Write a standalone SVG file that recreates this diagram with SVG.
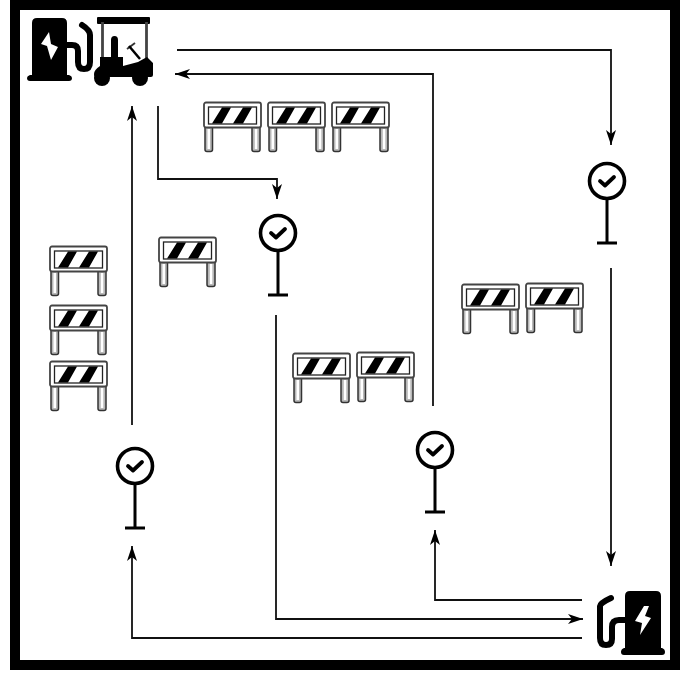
<svg xmlns="http://www.w3.org/2000/svg" width="694" height="673" viewBox="0 0 694 673">
<style>
.c{fill:none;stroke:#111;stroke-width:1.8}
.p{fill:#fff;stroke:#000;stroke-width:3.6}
.s{fill:none;stroke:#000;stroke-width:3}
.o{fill:#fff;stroke:#444;stroke-width:1.800}
.l{fill:#b8b8b8;stroke:#333;stroke-width:1.500}
.h{fill:none;stroke:#000;stroke-width:6;stroke-linecap:round;stroke-linejoin:round}
</style>
<defs>
<marker id="a" markerWidth="16" markerHeight="12" refX="15" refY="6" orient="auto" markerUnits="userSpaceOnUse"><path d="M0 1L15 6L0 11L4 6Z" fill="#000"/></marker>
<g id="barrier">
<rect class="l" x="1" y="24" width="7.500" height="26.500" rx="2"/>
<rect x="3.500" y="28" width="2.500" height="20" fill="#fff"/>
<rect class="l" x="48" y="24" width="8" height="26.500" rx="2"/>
<rect x="50.800" y="28" width="2.500" height="20" fill="#fff"/>
<rect class="o" x="0" y="1.500" width="57" height="25" rx="2"/>
<rect x="4.500" y="6" width="48" height="17" fill="#fff" stroke="#222" stroke-width="1.300"/>
<path d="M8 22.500L18 6.500H27L18 22.500ZM29 22.500L39 6.500H48L39 22.500Z" fill="#000"/>
</g>
<g id="pin">
<path class="s" d="M0 18V62M-10 62H10"/>
<circle class="p" cx="0" cy="0" r="17.500"/>
<path d="M-7 0L-2 4.500L7 -4" fill="none" stroke="#000" stroke-width="3.800" stroke-linecap="round" stroke-linejoin="round"/>
</g>
</defs>
<rect width="694" height="673" fill="#fff"/>
<rect id="frame" x="15" y="5" width="660" height="660" fill="none" stroke="#000" stroke-width="10"/>
<g id="connectors">
<path class="c" marker-end="url(#a)" d="M177 50H611V145"/>
<path class="c" marker-end="url(#a)" d="M433 406V74H175"/>
<path class="c" marker-end="url(#a)" d="M158 106V179H277V199"/>
<path class="c" marker-end="url(#a)" d="M132 425V106"/>
<path class="c" marker-end="url(#a)" d="M611 268V566"/>
<path class="c" marker-end="url(#a)" d="M276 315V619H583"/>
<path class="c" marker-end="url(#a)" d="M582 600H435V530"/>
<path class="c" marker-end="url(#a)" d="M582 638H132V546"/>
</g>
<g id="station-a">
<path d="M32 23Q32 18 37 18H62Q67 18 67 23V75H69Q72 76 72 78Q72 81 69 81H30Q27 81 27 78Q27 76 30 75H32Z" fill="#000"/>
<path d="M49 32L41 44L47 46L51 60L58 47L51 44Z" fill="#fff"/>
<path class="h" d="M66 45H72Q78 45 78 51V62Q78 69 84 69Q90 69 90 62V35Q90 30 82 25"/>
</g>
<g id="cart">
<rect x="97" y="17" width="53" height="7" rx="1" fill="#000"/>
<path d="M102.500 22V58M146.500 22V58" stroke="#444" stroke-width="2.800" fill="none"/>
<path d="M111 40Q111 36 114.500 36Q118 36 118 40V57H123V66L138 62L147 57L153 63V75Q153 77 151 77H96Q94 77 94 74Q94 70 100 66V57H111Z" fill="#000"/>
<circle cx="102" cy="78" r="8" fill="#000"/>
<circle cx="140" cy="78" r="8" fill="#000"/>
<path d="M127 49L135 43" stroke="#333" stroke-width="1.800" fill="none"/>
<path d="M129 46L140 59" stroke="#000" stroke-width="2.500" fill="none"/>
</g>
<g id="station-b">
<path d="M625 596Q625 591 630 591H656Q661 591 661 596V648H662Q665 649 665 652Q665 655 662 655H624Q621 655 621 652Q621 649 624 648H625Z" fill="#000"/>
<path d="M644 606L635 621L642 623L640 635L651 618L645 616L649 606Z" fill="#fff"/>
<path class="h" d="M626 620H619Q612 620 612 627V639Q612 645 606 645Q600 645 600 638V606Q600 603 611 598"/>
</g>
<g id="barriers">
<use href="#barrier" x="204" y="101"/>
<use href="#barrier" x="268" y="101"/>
<use href="#barrier" x="332" y="101"/>
<use href="#barrier" x="159" y="236"/>
<use href="#barrier" x="50" y="245"/>
<use href="#barrier" x="50" y="304"/>
<use href="#barrier" x="50" y="360"/>
<use href="#barrier" x="293" y="352"/>
<use href="#barrier" x="357" y="351"/>
<use href="#barrier" x="462" y="283"/>
<use href="#barrier" x="526" y="282"/>
</g>
<g id="pin-1"><use href="#pin" x="278" y="233"/></g>
<g id="pin-2"><use href="#pin" x="607" y="181"/></g>
<g id="pin-3"><use href="#pin" x="135" y="466"/></g>
<g id="pin-4"><use href="#pin" x="435" y="450"/></g>
</svg>
